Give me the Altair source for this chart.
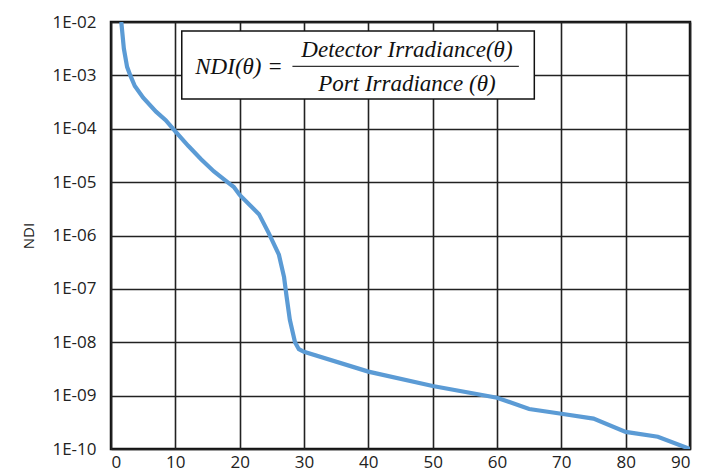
import altair as alt
import pandas as pd

angle = [1.6, 2.0, 2.5, 3.0, 3.7, 5.0, 7.0, 8.5, 10.0, 12.0, 14.0, 16.0, 18.3, 19.1, 20.0,
         23.0, 24.5, 26.1, 26.9, 27.3, 27.8, 28.6, 29.2, 30.0, 40.0, 50.0, 60.0, 65.0,
         70.0, 75.0, 80.0, 85.0, 90.0]
log_ndi = [-2.0, -2.5, -2.84, -3.0, -3.2, -3.42, -3.68, -3.84, -4.05, -4.32, -4.57, -4.8,
           -5.02, -5.09, -5.24, -5.6, -5.95, -6.36, -6.78, -7.15, -7.58, -8.0, -8.13, -8.18,
           -8.55, -8.82, -9.04, -9.25, -9.34, -9.43, -9.68, -9.77, -10.0]
ndi = [10 ** v for v in log_ndi]

x_ticks = [0, 10, 20, 30, 40, 50, 60, 70, 80, 90]
y_ticks = [1e-10, 1e-9, 1e-8, 1e-7, 1e-6, 1e-5, 1e-4, 1e-3, 1e-2]

eq_left = "NDI(θ) ="
eq_num = "Detector Irradiance(θ)"
eq_den = "Port Irradiance (θ)"

df = pd.DataFrame({"angle": angle, "ndi": ndi})

xs = alt.Scale(domain=[0, 90], nice=False, zero=False)
ys = alt.Scale(type="log", domain=[1e-10, 1e-2], nice=False)

xax = alt.Axis(values=x_ticks, title=None, grid=True, ticks=False, labelPadding=5,
               domain=False, gridColor="#222222", gridWidth=1.6, gridOpacity=1,
               labelFont="Open Sans", labelFontSize=17, labelColor="#222222")
yax = alt.Axis(values=y_ticks, title="NDI", grid=True, ticks=False, labelPadding=15,
               domain=False, gridColor="#222222", gridWidth=1.6, gridOpacity=1,
               labelFont="Open Sans", labelFontSize=17, labelColor="#222222",
               labelExpr="'1E-' + (round(-log(datum.value)/LN10) < 10 ? '0' : '') + round(-log(datum.value)/LN10)",
               titleFont="Open Sans", titleFontSize=15, titleFontWeight="normal",
               titleColor="#222222", titlePadding=15)

line = alt.Chart(df).mark_line(color="#5B9BD5", strokeWidth=4.2, clip=True).encode(
    x=alt.X("angle:Q", scale=xs, axis=xax),
    y=alt.Y("ndi:Q", scale=ys, axis=yax),
)

box_df = pd.DataFrame({"x": [11.0], "x2": [65.8], "y": [6.8e-3], "y2": [3.6e-4]})
box = alt.Chart(box_df).mark_rect(fill="white", stroke="#111111", strokeWidth=1.5).encode(
    x=alt.X("x:Q", scale=xs), x2="x2:Q",
    y=alt.Y("y:Q", scale=ys), y2="y2:Q",
)

frac_df = pd.DataFrame({"x": [28.2], "x2": [63.4], "y": [10 ** -2.83]})
frac = alt.Chart(frac_df).mark_rule(color="#333333", strokeWidth=1.2).encode(
    x=alt.X("x:Q", scale=xs), x2="x2:Q", y=alt.Y("y:Q", scale=ys),
)

txt_df = pd.DataFrame({
    "x": [19.9, 46.0, 46.0],
    "y": [10 ** -2.84, 10 ** -2.52, 10 ** -3.17],
    "t": [eq_left, eq_num, eq_den],
})
txt = alt.Chart(txt_df).mark_text(font="Liberation Serif", fontStyle="italic", fontSize=23,
                                  color="#111111", baseline="middle", align="center").encode(
    x=alt.X("x:Q", scale=xs), y=alt.Y("y:Q", scale=ys), text="t:N",
)

chart = alt.layer(line, box, frac, txt).properties(
    width=579, height=427, padding={"left": 13, "top": 5, "right": 5, "bottom": 5},
    background="white",
).configure_view(stroke="#111111", strokeWidth=2.5)

chart.save("out.html", embed_options={"renderer": "svg", "actions": False})
